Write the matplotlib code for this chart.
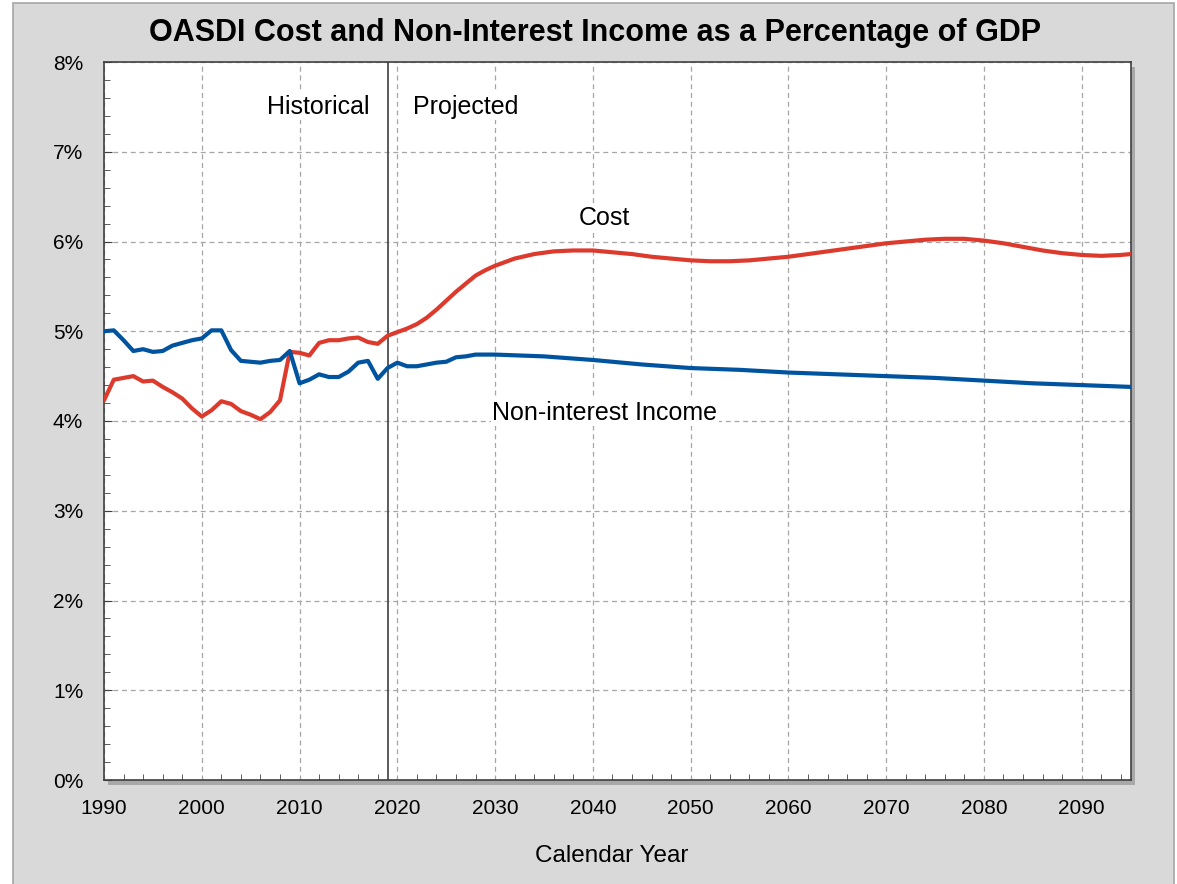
import numpy as np
import matplotlib
matplotlib.use("Agg")
import matplotlib.pyplot as plt
from matplotlib.patches import Rectangle
from matplotlib.ticker import MultipleLocator, FuncFormatter

plt.rcParams['font.family'] = ['Liberation Sans', 'DejaVu Sans']

# historical values, 1990-2019 (percent of GDP)
hist_years = list(range(1990, 2020))
hist_cost = [4.23, 4.46, 4.48, 4.50, 4.44, 4.45, 4.38, 4.32, 4.25, 4.14,
             4.05, 4.12, 4.22, 4.19, 4.11, 4.07, 4.02, 4.10, 4.23, 4.77,
             4.76, 4.73, 4.87, 4.90, 4.90, 4.92, 4.93, 4.88, 4.86, 4.95]
hist_income = [5.00, 5.01, 4.90, 4.78, 4.80, 4.77, 4.78, 4.84, 4.87, 4.90,
               4.92, 5.01, 5.01, 4.79, 4.67, 4.66, 4.65, 4.67, 4.68, 4.78,
               4.42, 4.46, 4.52, 4.49, 4.49, 4.55, 4.65, 4.67, 4.47, 4.59]

# projected values
proj_cost_years = [2019, 2020, 2021, 2022, 2023, 2024, 2025, 2026, 2027, 2028,
                   2029, 2030, 2032, 2034, 2036, 2038, 2040, 2042, 2044, 2046,
                   2048, 2050, 2052, 2054, 2056, 2058, 2060, 2062, 2064, 2066,
                   2068, 2070, 2072, 2074, 2076, 2078, 2080, 2082, 2084, 2086,
                   2088, 2090, 2092, 2094, 2095]
proj_cost = [4.95, 4.99, 5.03, 5.08, 5.15, 5.24, 5.34, 5.44, 5.53, 5.62,
             5.68, 5.73, 5.81, 5.86, 5.89, 5.90, 5.90, 5.88, 5.86, 5.83,
             5.81, 5.79, 5.78, 5.78, 5.79, 5.81, 5.83, 5.86, 5.89, 5.92,
             5.95, 5.98, 6.00, 6.02, 6.03, 6.03, 6.01, 5.98, 5.94, 5.90,
             5.87, 5.85, 5.84, 5.85, 5.86]
proj_income_years = [2019, 2020, 2021, 2022, 2023, 2024, 2025, 2026, 2027, 2028,
                     2029, 2030, 2035, 2040, 2045, 2050, 2055, 2060, 2065, 2070,
                     2075, 2080, 2085, 2090, 2095]
proj_income = [4.59, 4.65, 4.61, 4.61, 4.63, 4.65, 4.66, 4.71, 4.72, 4.74,
               4.74, 4.74, 4.72, 4.68, 4.63, 4.59, 4.57, 4.54, 4.52, 4.50,
               4.48, 4.45, 4.42, 4.40, 4.38]

cost_years = hist_years + proj_cost_years[1:]
cost = hist_cost + proj_cost[1:]
income_years = hist_years + proj_income_years[1:]
income = hist_income + proj_income[1:]

W, H = 1177, 884
fig = plt.figure(figsize=(W / 100, H / 100), dpi=100, facecolor='white')

# gray panel behind everything
fig.patches.append(Rectangle((13 / W, -0.05), (1174 - 13) / W, 1 - 3 / H + 0.05,
                             transform=fig.transFigure, facecolor='#D9D9D9',
                             edgecolor='#A6A6A6', linewidth=1.2, zorder=0))

l, r, t, b = 104 / W, 1130.6 / W, 1 - 62 / H, 1 - 780 / H
# drop shadow of plot area
fig.patches.append(Rectangle((l + 4 / W, b - 5 / H), r - l, t - b,
                             transform=fig.transFigure, facecolor='#a8a8a8',
                             edgecolor='none', zorder=0.5))

ax = fig.add_axes([l, b, r - l, t - b])
ax.set_zorder(2)
ax.set_facecolor('white')

ax.plot(cost_years, cost, color='#DD3A2E', lw=3, solid_capstyle='round',
        solid_joinstyle='round', zorder=3)
ax.plot(income_years, income, color='#00539F', lw=3, solid_capstyle='round',
        solid_joinstyle='round', zorder=3)
ax.axvline(2019, color='#404040', lw=1.2, zorder=2)

ax.set_xlim(1990, 2095)
ax.set_ylim(0, 8)
ax.xaxis.set_major_locator(MultipleLocator(10))
ax.xaxis.set_minor_locator(MultipleLocator(2))
ax.yaxis.set_major_locator(MultipleLocator(1))
ax.yaxis.set_minor_locator(MultipleLocator(0.2))
ax.yaxis.set_major_formatter(FuncFormatter(lambda v, p: f'{v:.0f}%'))
ax.tick_params(which='both', direction='in', colors='#404040', labelcolor='black',
               labelsize=15, top=False, right=False)
ax.tick_params(axis='y', which='major', length=6, pad=15)
ax.tick_params(axis='y', which='minor', length=4)
ax.tick_params(axis='x', which='major', length=0, pad=13.5)
ax.tick_params(axis='x', which='minor', length=4)
ax.grid(True, which='major', color='#A6A6A6', linestyle=(0, (4, 3)), lw=0.9)
for s in ax.spines.values():
    s.set_color('#404040')
    s.set_linewidth(1.2)

ax.set_xlabel('Calendar Year', fontsize=17.5)
ax.xaxis.set_label_coords(0.495, -0.091)

txt = dict(fontsize=18, va='center', zorder=4,
           bbox=dict(facecolor='white', edgecolor='none', pad=1))
ax.text(2017.2, 7.5, 'Historical', ha='right', **txt)
ax.text(2021.6, 7.5, 'Projected', ha='left', **txt)
ax.text(2041.2, 6.26, 'Cost', ha='center', **txt)
ax.text(2041.2, 4.09, 'Non-interest Income', ha='center', **txt)

fig.text(595 / W, 1 - 33 / H, 'OASDI Cost and Non-Interest Income as a Percentage of GDP',
         ha='center', va='center', fontsize=22, fontweight='bold')

fig.savefig('out.png', dpi=100, facecolor=fig.get_facecolor())
